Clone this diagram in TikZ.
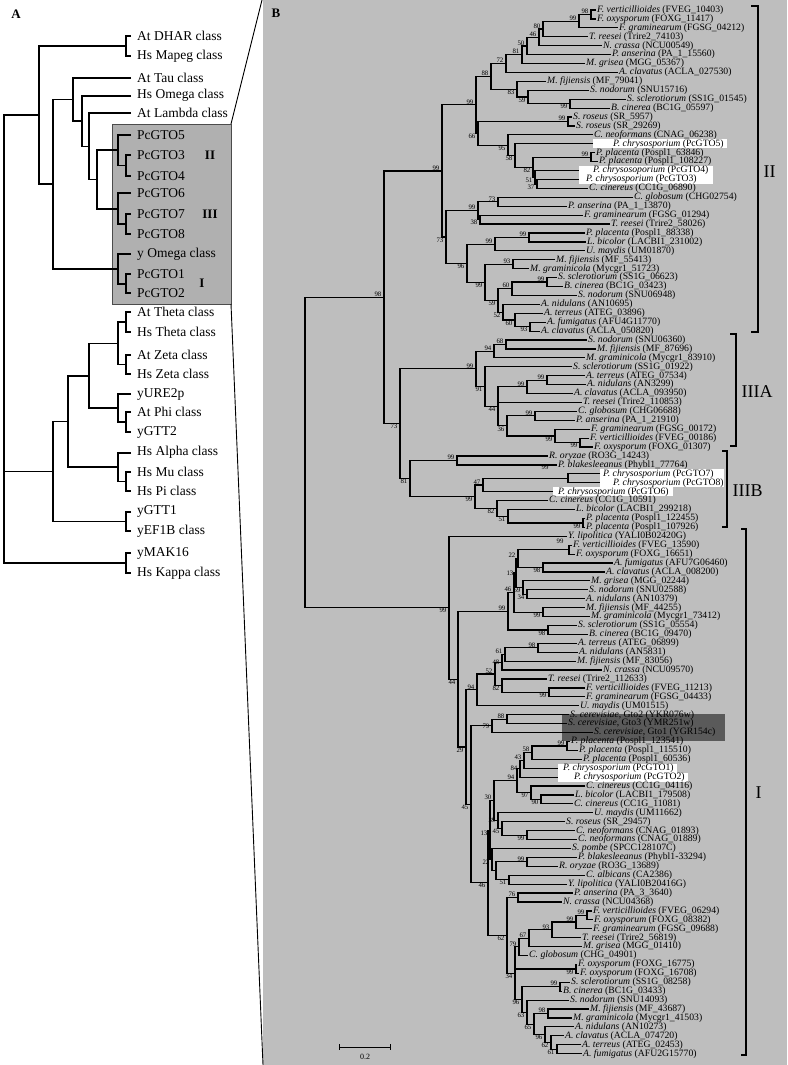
\documentclass[tikz,border=0pt]{standalone}
\usepackage{fontspec}
\setmainfont{Liberation Serif}
\usetikzlibrary{calc}
\definecolor{panelGray}{RGB}{190,190,190}
\definecolor{boxGray}{RGB}{176,176,176}
\definecolor{yeastGray}{RGB}{90,90,90}
\tikzset{
  br/.style={line width=1.2pt},
  abr/.style={line width=1.7pt},
  leaf/.style={anchor=west, inner sep=1pt, font=\fontsize{9.7}{9.7}\selectfont},
  aleaf/.style={anchor=west, inner sep=0pt, xshift=6pt, font=\fontsize{13.5}{13.5}\selectfont},
  bsa/.style={anchor=south east, inner sep=0.5pt, xshift=-2pt, font=\fontsize{6.8}{6.8}\selectfont},
  bsb/.style={anchor=north east, inner sep=0.5pt, xshift=-2pt, font=\fontsize{6.8}{6.8}\selectfont},
  bsl/.style={anchor=east, inner sep=0.5pt, xshift=-2pt, font=\fontsize{6.8}{6.8}\selectfont},
  bsn/.style={inner sep=0pt},
  bsf/.style={inner sep=0pt, font=\fontsize{6.8}{6.8}\selectfont},
  clade/.style={line width=1.5pt},
  cladelab/.style={anchor=west, font=\fontsize{18}{18}\selectfont},
  boxlab/.style={font=\bfseries\fontsize{13}{13}\selectfont},
  panel/.style={font=\bfseries\fontsize{13}{13}\selectfont}
}
% species name + accession
\newcommand\tx[2]{\textit{#1} (#2)}
% leaf of panel B: [options]{name}{tip x}{row}{text}
\newcommand\lf[5][]{\coordinate (#2) at (#3,{10+(#4-1)*8.92}); \node[leaf,#1] (#2t) at (#2) {#5};}
% leaf of panel A: {name}{y}{text}
\newcommand\la[3]{\coordinate (#1) at (131,#2); \node[aleaf] (#1t) at (#1) {#3};}
% inner node: [branch style]{name}{x}{child 1}{child 2}{bootstrap}{label style}
\newcommand\nd[7][br]{%
  \path let \p1=($(#4)!.5!(#5)$) in coordinate (#2) at (#3pt,\y1);
  \draw[#1] (#4) -| (#2) |- (#5);
  \node[#7] at (#2) {#6};}
% inner node with three children
\newcommand\ndiii[8][br]{%
  \path let \p1=($(#4)!.5!(#6)$) in coordinate (#2) at (#3pt,\y1);
  \draw[#1] (#4) -| (#2) |- (#6);
  \draw[#1] (#2 |- #5) -- (#5);
  \node[#8] at (#2) {#7};}

\begin{document}
\begin{tikzpicture}[x=1pt,y=-1pt]
\useasboundingbox (0,0) rectangle (787,1065);
\fill[white] (0,0) rectangle (787,1065);

% ---------- panel B background ----------
\fill[panelGray] (263,0) rectangle (787,1065);
\node[panel] (labB) at (276,13) {B};

% ---------- panel A ----------
\node[panel] (labA) at (16,14) {A};
\coordinate (boxNW) at (112,124);
\coordinate (boxSE) at (231,304);
\fill[boxGray] (boxNW) rectangle (boxSE);
\draw[black!70, line width=0.8pt] (boxNW) rectangle (boxSE);
\coordinate (zoomTop) at (262,0);
\coordinate (zoomBot) at (263,1065);
\draw[line width=0.9pt] (boxSE |- boxNW) -- (zoomTop);
\draw[line width=0.9pt] (boxSE) -- (zoomBot);
\node[boxlab] (aLabII) at (210,155) {II};
\node[boxlab] (aLabIII) at (210,214) {III};
\node[boxlab] (aLabI) at (202,283) {I};

\la{aDHAR}{36}{At DHAR class}
\la{aMapeg}{56}{Hs Mapeg class}
\la{aTaul}{77.7}{At Tau class}
\la{aHsOm}{95.7}{Hs Omega class}
\la{aLamb}{113.3}{At Lambda class}
\la{aG5}{135}{PcGTO5}
\la{aG3}{155}{PcGTO3}
\la{aG4}{176}{PcGTO4}
\la{aG6}{193.3}{PcGTO6}
\la{aG7}{214.3}{PcGTO7}
\la{aG8}{234.3}{PcGTO8}
\la{aYom}{254}{y Omega class}
\la{aG1}{274.3}{PcGTO1}
\la{aG2}{293.3}{PcGTO2}
\la{aAtTh}{312.3}{At Theta class}
\la{aHsTh}{332.3}{Hs Theta class}
\la{aAtZe}{355}{At Zeta class}
\la{aHsZe}{374}{Hs Zeta class}
\la{aURE}{394}{yURE2p}
\la{aAtPhi}{412.3}{At Phi class}
\la{aGTT2}{432.3}{yGTT2}
\la{aAlpha}{452.7}{Hs Alpha class}
\la{aMu}{471.7}{Hs Mu class}
\la{aPi}{491}{Hs Pi class}
\la{aGTT1}{511.7}{yGTT1}
\la{aEF1B}{531}{yEF1B class}
\la{aMAK}{553}{yMAK16}
\la{aKappa}{573}{Hs Kappa class}

\nd[abr]{aN1}{126}{aDHAR}{aMapeg}{}{bsn}
\nd[abr]{aP34}{126}{aG3}{aG4}{}{bsn}
\nd[abr]{aII}{118.3}{aG5}{aP34}{}{bsn}
\nd[abr]{aP78}{126}{aG7}{aG8}{}{bsn}
\nd[abr]{aIII}{118.3}{aG6}{aP78}{}{bsn}
\nd[abr]{aP12}{126}{aG1}{aG2}{}{bsn}
\nd[abr]{aI}{118.3}{aYom}{aP12}{}{bsn}
\nd[abr]{aIIIII}{96.7}{aII}{aIII}{}{bsn}
\nd[abr]{aLam}{89.3}{aLamb}{aIIIII}{}{bsn}
\nd[abr]{aOme}{81.7}{aHsOm}{aLam}{}{bsn}
\nd[abr]{aTau}{73.3}{aTaul}{aOme}{}{bsn}
\nd[abr]{aOmcl}{52.7}{aTau}{aI}{}{bsn}
\nd[abr]{aTop}{39.3}{aN1}{aOmcl}{}{bsn}
\nd[abr]{aTh}{126}{aAtTh}{aHsTh}{}{bsn}
\nd[abr]{aZe}{126}{aAtZe}{aHsZe}{}{bsn}
\nd[abr]{aTZ}{118.3}{aTh}{aZe}{}{bsn}
\nd[abr]{aPG}{126}{aAtPhi}{aGTT2}{}{bsn}
\nd[abr]{aUP}{118.3}{aURE}{aPG}{}{bsn}
\nd[abr]{aTZP}{89.3}{aTZ}{aUP}{}{bsn}
\nd[abr]{aMP}{126}{aMu}{aPi}{}{bsn}
\nd[abr]{aAMP}{118.3}{aAlpha}{aMP}{}{bsn}
\nd[abr]{aTZPA}{68.3}{aTZP}{aAMP}{}{bsn}
\nd[abr]{aG1E}{126}{aGTT1}{aEF1B}{}{bsn}
\nd[abr]{aLow}{52.7}{aTZPA}{aG1E}{}{bsn}
\nd[abr]{aKap}{126}{aMAK}{aKappa}{}{bsn}
\ndiii[abr]{aRoot}{4}{aTop}{aLow}{aKap}{}{bsn}

% ---------- panel B: highlight boxes ----------
\fill[yeastGray] (562,714) rectangle (725,741);
\fill[white] (593,139.3) rectangle (727,148.3);
\fill[white] (579,166) rectangle (713,184);
\fill[white] (600,469.3) rectangle (724,487.2);
\fill[white] (553,487.2) rectangle (673,496.2);
\fill[white] (558,763.7) rectangle (677,772.7);
\fill[white] (558,772.6) rectangle (688,781.6);

% ---------- panel B: leaves, clade II ----------
\lf{b1}{596}{1}{\tx{F. verticillioides}{FVEG\_10403}}
\lf{b2}{596}{2}{\tx{F. oxysporum}{FOXG\_11417}}
\lf{b3}{618}{3}{\tx{F. graminearum}{FGSG\_04212}}
\lf{b4}{588}{4}{\tx{T. reesei}{Trire2\_74103}}
\lf{b5}{602}{5}{\tx{N. crassa}{NCU00549}}
\lf{b6}{611}{6}{\tx{P. anserina}{PA\_1\_15560}}
\lf{b7}{585}{7}{\tx{M. grisea}{MGG\_05367}}
\lf{b8}{618}{8}{\tx{A. clavatus}{ACLA\_027530}}
\lf{b9}{546}{9}{\tx{M. fijiensis}{MF\_79041}}
\lf{b10}{589}{10}{\tx{S. nodorum}{SNU15716}}
\lf{b11}{626}{11}{\tx{S. sclerotiorum}{SS1G\_01545}}
\lf{b12}{610}{12}{\tx{B. cinerea}{BC1G\_05597}}
\lf{b13}{572}{13}{\tx{S. roseus}{SR\_5957}}
\lf{b14}{575}{14}{\tx{S. roseus}{SR\_29269}}
\lf{b15}{593}{15}{\tx{C. neoformans}{CNAG\_06238}}
\lf[xshift=19pt]{b16}{593}{16}{\tx{P. chrysosporium}{PcGTO5}}
\lf{b17}{595}{17}{\tx{P. placenta}{Pospl1\_63846}}
\lf{b18}{598}{18}{\tx{P. placenta}{Pospl1\_108227}}
\lf[xshift=13pt]{b19}{579}{19}{\tx{P. chrysosoporium}{PcGTO4}}
\lf[xshift=6pt]{b20}{579}{20}{\tx{P. chrysosporium}{PcGTO3}}
\lf{b21}{588}{21}{\tx{C. cinereus}{CC1G\_06890}}
\lf{b22}{633}{22}{\tx{C. globosum}{CHG02754}}
\lf{b23}{567}{23}{\tx{P. anserina}{PA\_1\_13870}}
\lf{b24}{583}{24}{\tx{F. graminearum}{FGSG\_01294}}
\lf{b25}{610}{25}{\tx{T. reesei}{Trire2\_58026}}
\lf{b26}{585}{26}{\tx{P. placenta}{Pospl1\_88338}}
\lf{b27}{586}{27}{\tx{L. bicolor}{LACBI1\_231002}}
\lf{b28}{585}{28}{\tx{U. maydis}{UM01870}}
\lf{b29}{555}{29}{\tx{M. fijiensis}{MF\_55413}}
\lf{b30}{529}{30}{\tx{M. graminicola}{Mycgr1\_51723}}
\lf{b31}{557}{31}{\tx{S. sclerotiorum}{SS1G\_06623}}
\lf{b32}{563}{32}{\tx{B. cinerea}{BC1G\_03423}}
\lf{b33}{577}{33}{\tx{S. nodorum}{SNU06948}}
\lf{b34}{540}{34}{\tx{A. nidulans}{AN10695}}
\lf{b35}{543}{35}{\tx{A. terreus}{ATEG\_03896}}
\lf{b36}{546}{36}{\tx{A. fumigatus}{AFU4G11770}}
\lf{b37}{540}{37}{\tx{A. clavatus}{ACLA\_050820}}
% clade IIIA
\lf{b38}{587}{38}{\tx{S. nodorum}{SNU06360}}
\lf{b39}{596}{39}{\tx{M. fijiensis}{MF\_87696}}
\lf{b40}{585}{40}{\tx{M. graminicola}{Mycgr1\_83910}}
\lf{b41}{572}{41}{\tx{S. sclerotiorum}{SS1G\_01922}}
\lf{b42}{585}{42}{\tx{A. terreus}{ATEG\_07534}}
\lf{b43}{586}{43}{\tx{A. nidulans}{AN3299}}
\lf{b44}{573}{44}{\tx{A. clavatus}{ACLA\_093950}}
\lf{b45}{582}{45}{\tx{T. reesei}{Trire2\_110853}}
\lf{b46}{577}{46}{\tx{C. globosum}{CHG06688}}
\lf{b47}{575}{47}{\tx{P. anserina}{PA\_1\_21910}}
\lf{b48}{590}{48}{\tx{F. graminearum}{FGSG\_00172}}
\lf{b49}{589}{49}{\tx{F. verticillioides}{FVEG\_00186}}
\lf{b50}{593}{50}{\tx{F. oxysporum}{FOXG\_01307}}
% clade IIIB
\lf{b51}{548}{51}{\tx{R. oryzae}{RO3G\_14243}}
\lf{b52}{557}{52}{\tx{P. blakesleeanus}{Phybl1\_77764}}
\lf[xshift=2pt]{b53}{600}{53}{\tx{P. chrysosporium}{PcGTO7}}
\lf[xshift=12pt]{b54}{600}{54}{\tx{P. chrysosporium}{PcGTO8}}
\lf[xshift=4pt]{b55}{553}{55}{\tx{P. chrysosporium}{PcGTO6}}
\lf{b56}{548}{56}{\tx{C. cinereus}{CC1G\_10591}}
\lf{b57}{575}{57}{\tx{L. bicolor}{LACBI1\_299218}}
\lf{b58}{585}{58}{\tx{P. placenta}{Pospl1\_122455}}
\lf{b59}{585}{59}{\tx{P. placenta}{Pospl1\_107926}}
% clade I
\lf{b60}{567}{60}{\tx{Y. lipolitica}{YALI0B02420G}}
\lf{b61}{572}{61}{\tx{F. verticillioides}{FVEG\_13590}}
\lf{b62}{575}{62}{\tx{F. oxysporum}{FOXG\_16651}}
\lf{b63}{613}{63}{\tx{A. fumigatus}{AFU7G06460}}
\lf{b64}{605}{64}{\tx{A. clavatus}{ACLA\_008200}}
\lf{b65}{590}{65}{\tx{M. grisea}{MGG\_02244}}
\lf{b66}{588}{66}{\tx{S. nodorum}{SNU02588}}
\lf{b67}{585}{67}{\tx{A. nidulans}{AN10379}}
\lf{b68}{585}{68}{\tx{M. fijiensis}{MF\_44255}}
\lf{b69}{590}{69}{\tx{M. graminicola}{Mycgr1\_73412}}
\lf{b70}{577}{70}{\tx{S. sclerotiorum}{SS1G\_05554}}
\lf{b71}{588}{71}{\tx{B. cinerea}{BC1G\_09470}}
\lf{b72}{577}{72}{\tx{A. terreus}{ATEG\_06899}}
\lf{b73}{578}{73}{\tx{A. nidulans}{AN5831}}
\lf{b74}{576}{74}{\tx{M. fijiensis}{MF\_83056}}
\lf{b75}{602}{75}{\tx{N. crassa}{NCU09570}}
\lf{b76}{547}{76}{\tx{T. reesei}{Trire2\_112633}}
\lf{b77}{585}{77}{\tx{F. verticillioides}{FVEG\_11213}}
\lf{b78}{585}{78}{\tx{F. graminearum}{FGSG\_04433}}
\lf{b79}{579}{79}{\tx{U. maydis}{UM01515}}
\lf{b80}{569}{80}{\textit{S. cerevisiae}, Gto2 (YKR076w)}
\lf{b81}{567}{81}{\textit{S. cerevisiae}, Gto3 (YMR251w)}
\lf{b82}{593}{82}{\textit{S. cerevisiae}, Gto1 (YGR154c)}
\lf{b83}{570}{83}{\tx{P. placenta}{Pospl1\_123541}}
\lf{b84}{578}{84}{\tx{P. placenta}{Pospl1\_115510}}
\lf{b85}{582}{85}{\tx{P. placenta}{Pospl1\_60536}}
\lf[xshift=4pt]{b86}{558}{86}{\tx{P. chrysosporium}{PcGTO1}}
\lf[xshift=15pt]{b87}{558}{87}{\tx{P. chrysosporium}{PcGTO2}}
\lf{b88}{585}{88}{\tx{C. cinereus}{CC1G\_04116}}
\lf{b89}{574}{89}{\tx{L. bicolor}{LACBI1\_179508}}
\lf{b90}{573}{90}{\tx{C. cinereus}{CC1G\_11081}}
\lf{b91}{593}{91}{\tx{U. maydis}{UM11662}}
\lf{b92}{565}{92}{\tx{S. roseus}{SR\_29457}}
\lf{b93}{575}{93}{\tx{C. neoformans}{CNAG\_01893}}
\lf{b94}{577}{94}{\tx{C. neoformans}{CNAG\_01889}}
\lf{b95}{571}{95}{\tx{S. pombe}{SPCC128107C}}
\lf{b96}{577}{96}{\tx{P. blakesleeanus}{Phybl1-33294}}
\lf{b97}{558}{97}{\tx{R. oryzae}{RO3G\_13689}}
\lf{b98}{585}{98}{\tx{C. albicans}{CA2386}}
\lf{b99}{567}{99}{\tx{Y. lipolitica}{YALI0B20416G}}
\lf{b100}{573}{100}{\tx{P. anserina}{PA\_3\_3640}}
\lf{b101}{562}{101}{\tx{N. crassa}{NCU04368}}
\lf{b102}{592}{102}{\tx{F. verticillioides}{FVEG\_06294}}
\lf{b103}{593}{103}{\tx{F. oxysporum}{FOXG\_08382}}
\lf{b104}{592}{104}{\tx{F. graminearum}{FGSG\_09688}}
\lf{b105}{581}{105}{\tx{T. reesei}{Trire2\_56819}}
\lf{b106}{582}{106}{\tx{M. grisea}{MGG\_01410}}
\lf{b107}{528}{107}{\tx{C. globosum}{CHG\_04901}}
\lf{b108}{577}{108}{\tx{F. oxysporum}{FOXG\_16775}}
\lf{b109}{579}{109}{\tx{F. oxysporum}{FOXG\_16708}}
\lf{b110}{570}{110}{\tx{S. sclerotiorum}{SS1G\_08258}}
\lf{b111}{562}{111}{\tx{B. cinerea}{BC1G\_03433}}
\lf{b112}{569}{112}{\tx{S. nodorum}{SNU14093}}
\lf{b113}{589}{113}{\tx{M. fijiensis}{MF\_43687}}
\lf{b114}{572}{114}{\tx{M. graminicola}{Mycgr1\_41503}}
\lf{b115}{574}{115}{\tx{A. nidulans}{AN10273}}
\lf{b116}{564}{116}{\tx{A. clavatus}{ACLA\_074720}}
\lf{b117}{581}{117}{\tx{A. terreus}{ATEG\_02453}}
\lf{b118}{582}{118}{\tx{A. fumigatus}{AFU2G15770}}

% ---------- panel B: inner nodes, clade II ----------
\nd{c12}{591}{b1}{b2}{98}{bsa}
\nd{c3}{579}{c12}{b3}{99}{bsa}
\nd{c4}{543}{c3}{b4}{80}{bsa}
\nd{c5}{539}{c4}{b5}{46}{bsa}
\nd{c6}{527}{c5}{b6}{50}{bsa}
\nd{c7}{522}{c6}{b7}{81}{bsa}
\nd{c8}{506}{c7}{b8}{72}{bsa}
\nd{c1112}{570}{b11}{b12}{99}{bsb}
\nd{c10}{528}{b10}{c1112}{59}{bsb}
\nd{c9}{517}{b9}{c10}{83}{bsb}
\nd{c88}{491}{c8}{c9}{88}{bsa}
\nd{cSr}{568}{b13}{b14}{99}{bsa}
\nd{c1718}{591}{b17}{b18}{99}{bsa}
\nd{c37}{537}{b20}{b21}{37}{bsb}
\nd{c51}{535}{b19}{c37}{51}{bsb}
\nd{c82}{533}{c1718}{c51}{82}{bsb}
\nd{c58}{515}{b16}{c82}{58}{bsb}
\nd{c95}{508}{b15}{c58}{95}{bsb}
\nd{c66}{478}{cSr}{c95}{66}{bsb}
\nd{c99a}{476}{c88}{c66}{99}{bsa}
\nd{c73b}{498}{b22}{b23}{73}{bsa}
\nd{c38}{480}{b24}{b25}{38}{bsb}
\nd{c99c}{478}{c73b}{c38}{99}{bsa}
\nd{c99f}{529}{b26}{b27}{99}{bsa}
\nd{c99d}{495}{c99f}{b28}{99}{bsa}
\nd{c93}{513}{b29}{b30}{93}{bsa}
\nd{c99g}{547}{b31}{b32}{99}{bsa}
\nd{c60}{512}{c99g}{b33}{60}{bsa}
\nd{c93b}{530}{b36}{b37}{93}{bsb}
\nd{c60b}{515}{b35}{c93b}{60}{bsb}
\nd{c52}{503}{b34}{c60b}{52}{bsb}
\nd{c59}{498}{c60}{c52}{59}{bsb}
\nd{c99e}{485}{c93}{c59}{99}{bsb}
\nd{c96}{467}{c99d}{c99e}{96}{bsb}
\nd{c73a}{446}{c99c}{c96}{73}{bsb}
\nd{cII}{442}{c99a}{c73a}{99}{bsa}
% clade IIIA
\nd{d68}{506}{b38}{b39}{68}{bsa}
\nd{d94}{494}{d68}{b40}{94}{bsa}
\nd{d99i}{547}{b42}{b43}{99}{bsa}
\nd{d99h}{527}{d99i}{b44}{99}{bsa}
\nd{d99j}{535}{b46}{b47}{99}{bsa}
\nd{d99m}{580}{b49}{b50}{99}{bsb}
\nd{d99l}{555}{b48}{d99m}{99}{bsb}
\nd{d36}{507}{d99j}{d99l}{36}{bsb}
\ndiii{d44}{498}{d99h}{b45}{d36}{44}{bsb}
\nd{d91}{485}{b41}{d44}{91}{bsb}
\nd{dIIIA}{476}{d94}{d91}{99}{bsa}
% clade IIIB
\nd{e99r}{457}{b51}{b52}{99}{bsa}
\nd{e78}{568}{b53}{b54}{}{bsn}
\nd{e47}{483}{e78}{b55}{47}{bsa}
\nd{epl}{583}{b58}{b59}{99}{bsb}
\nd{e51}{508}{b57}{epl}{51}{bsb}
\nd{e82}{497}{b56}{e51}{82}{bsb}
\nd{e99s}{475}{e47}{e82}{99}{bsb}
\nd{e81}{410}{e99r}{e99s}{81}{bsb}
\nd{e73}{400}{dIIIA}{e81}{73}{bsb}
\nd{n98}{384}{cII}{e73}{98}{bsa}
\node[bsf] (stray1) at (545,467) {99};
% clade I
\nd{ffv}{569}{b61}{b62}{}{bsn}
\nd{f98c}{543}{b63}{b64}{98}{bsb}
\nd{f22}{518}{ffv}{f98c}{22}{bsa}
\nd{f34a}{527}{b66}{b67}{34}{bsb}
\nd{f59}{523}{b65}{f34a}{59}{bsb}
\nd{f13}{516}{f22}{f59}{13}{bsl}
\nd{f99mf}{543}{b68}{b69}{99}{bsb}
\nd{f46}{514}{f13}{f99mf}{46}{bsa}
\nd{f98sb}{548}{b70}{b71}{98}{bsb}
\nd{f99u}{508}{f46}{f98sb}{99}{bsa}
\nd{f98d}{538}{b72}{b73}{98}{bsa}
\nd{f61}{505}{f98d}{b74}{61}{bsa}
\nd{f48}{502}{f61}{b75}{48}{bsl}
\nd{f99fus}{549}{b77}{b78}{99}{bsb}
\nd{f82}{502}{b76}{f99fus}{82}{bsb}
\nd{f52}{495}{f48}{f82}{52}{bsa}
\nd{f94b}{477}{f52}{b79}{94}{bsa}
\nd{f88}{507}{b80}{b81}{88}{bsa}
\nd{f79}{492}{f88}{b82}{79}{bsl}
\nd{fpp}{567}{b83}{b84}{99}{bsa}
\nd{f58}{532}{fpp}{b85}{58}{bsa}
\nd{f43}{524}{f58}{b86}{43}{bsa}
\nd{f84}{520}{f43}{b87}{84}{bsl}
\nd{f90}{541}{b89}{b90}{90}{bsb}
\nd{f97}{531}{b88}{f90}{97}{bsb}
\nd{f94c}{517}{f84}{f97}{94}{bsa}
\nd{fcn}{527}{b93}{b94}{99}{bsb}
\nd{f45b}{502}{b92}{fcn}{45}{bsb}
\nd{f39}{498}{b91}{f45b}{39}{bsl}
\nd{f30}{494}{f94c}{f39}{30}{bsa}
\nd{fpr}{527}{b96}{b97}{99}{bsa}
\nd{fcy}{509}{b98}{b99}{51}{bsb}
\nd{fx}{496}{fpr}{fcy}{}{bsn}
\nd{f22b}{492}{b95}{fx}{22}{bsb}
\nd{f13b}{490}{f30}{f22b}{13}{bsb}
\nd{f76}{518}{b100}{b101}{76}{bsa}
\nd{fff}{587}{b102}{b103}{99}{bsa}
\nd{ff3}{576}{fff}{b104}{99}{bsa}
\nd{f93c}{552}{ff3}{b105}{93}{bsa}
\nd{f67}{529}{f93c}{b106}{67}{bsa}
\nd{f79b}{519}{f67}{b107}{79}{bsa}
\nd{ffo}{576}{b108}{b109}{99}{bsb}
\nd{f61b}{557}{b117}{b118}{61}{bsb}
\nd{f62b}{551}{b116}{f61b}{62}{bsb}
\nd{f96b}{545}{b115}{f62b}{96}{bsb}
\nd{f98e}{548}{b113}{b114}{98}{bsa}
\nd{f65}{534}{f98e}{f96b}{65}{bsb}
\nd{f63}{527}{b112}{f65}{63}{bsb}
\nd{fsb}{560}{b110}{b111}{99}{bsa}
\nd{f96c}{522}{fsb}{f63}{96}{bsb}
\ndiii{f34}{515}{f79b}{ffo}{f96c}{34}{bsb}
\nd{f62}{507}{f76}{f34}{62}{bsb}
\nd{fR}{488}{f13b}{f62}{46}{bsb}
\nd{fQ}{471}{f79}{fR}{45}{bsb}
\nd{fP}{466}{f94b}{fQ}{29}{bsb}
\nd{f29}{458}{f99u}{fP}{44}{bsb}
\nd{f44}{449}{b60}{f29}{99}{bsb}
\node[bsf] (stray2) at (560,541) {99};
% root
\nd{root}{305}{n98}{f44}{}{bsn}

% ---------- clade brackets ----------
\draw[clade] (751,6) -- (758,6) -- (758,332) -- (751,332);
\node[cladelab] (cII) at (760,172) {II};
\draw[clade] (730,334) -- (736,334) -- (736,446) -- (730,446);
\node[cladelab] (cIIIA) at (738,392) {IIIA};
\draw[clade] (722,451) -- (727,451) -- (727,527) -- (722,527);
\node[cladelab] (cIIIB) at (729,491) {IIIB};
\draw[clade] (741,529) -- (746,529) -- (746,1055) -- (741,1055);
\node[cladelab] (cI) at (752,793) {I};

% ---------- scale bar ----------
\coordinate (sbL) at (339,1047);
\coordinate (sbR) at (390,1047);
\draw[line width=1pt] (sbL) -- (sbR);
\draw[line width=1pt] ($(sbL)+(0,-3)$) -- ($(sbL)+(0,3)$);
\draw[line width=1pt] ($(sbR)+(0,-3)$) -- ($(sbR)+(0,3)$);
\node[font=\fontsize{8}{8}\selectfont] (sbT) at (365,1057) {0.2};
\end{tikzpicture}
\end{document}
